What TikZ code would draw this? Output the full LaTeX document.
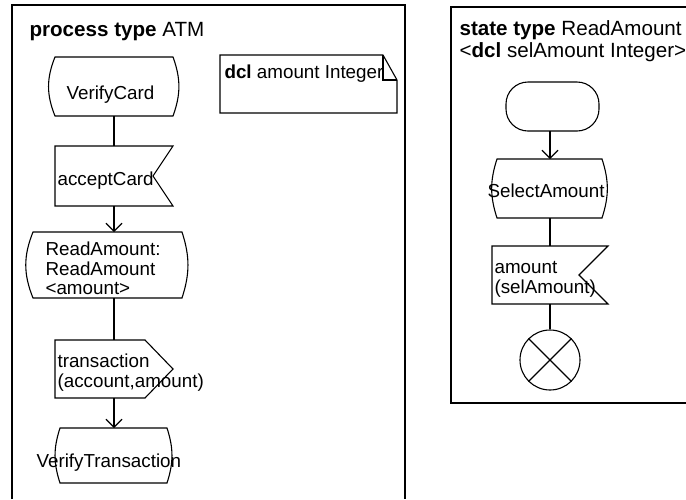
\documentclass[tikz,border=0pt]{standalone}
\usepackage{fontspec}
\setmainfont{Liberation Sans}
\usetikzlibrary{arrows.meta}
\begin{document}
\begin{tikzpicture}[x=1pt, y=-1pt, line width=1.1pt,
  shapebox/.style 2 args={rectangle, draw=none, inner sep=0pt, outer sep=0pt,
    minimum width=#1, minimum height=#2},
  txt/.style={font=\fontsize{18.8}{21}\selectfont, inner sep=0pt, anchor=base west},
  titletxt/.style={font=\fontsize{20.6}{22}\selectfont, inner sep=0pt, anchor=base west},
  flow/.style={-{Straight Barb[length=8pt,width=16pt]}}
]
\useasboundingbox (0,0) rectangle (686,499);

% ---------- frames ----------
\draw (12,499) -- (12,5) -- (405,5) -- (405,499);
\draw (686,7) -- (451,7) -- (451,403) -- (686,403);

% ---------- process type ATM ----------
\node[titletxt] (ptitle) at (29,36) {\textbf{process type} ATM};

% symbol frames (geometry only)
\node[shapebox={118pt}{59pt}] (vc)  at (114,86.5) {};
\node[shapebox={118pt}{60pt}] (ac)  at (114,176) {};
\node[shapebox={149pt}{66pt}] (ra)  at (107.5,265) {};
\node[shapebox={118pt}{58pt}] (tr)  at (114,369) {};
\node[shapebox={107pt}{55pt}] (vt)  at (113.5,455.5) {};
\node[shapebox={177pt}{58pt}] (dcl) at (308.5,84) {};

% state symbols: flat top and bottom, convex sides
\draw (vc.north west) -- (vc.north east) to[bend left=20] (vc.south east)
      -- (vc.south west) to[bend left=22] (vc.north west) -- cycle;
\draw (ra.north west) -- (ra.north east) to[bend left=18] (ra.south east)
      -- (ra.south west) to[bend left=22] (ra.north west) -- cycle;
\draw (vt.north west) -- (vt.north east) to[bend left=18] (vt.south east)
      -- (vt.south west) to[bend left=18] (vt.north west) -- cycle;

% input symbol
\draw (ac.north west) -- (ac.north east) -- ([xshift=-20pt]ac.east)
      -- (ac.south east) -- (ac.south west) -- cycle;

% output symbol
\draw (tr.north west) -- ([xshift=-28pt]tr.north east) -- (tr.east)
      -- ([xshift=-28pt]tr.south east) -- (tr.south west) -- cycle;

% text symbol with folded corner
\draw (dcl.north west) -- ([xshift=-14pt]dcl.north east) -- ([yshift=-25pt]dcl.north east)
      -- (dcl.south east) -- (dcl.south west) -- cycle;
\draw ([xshift=-14pt]dcl.north east) -- ([xshift=-14pt,yshift=-25pt]dcl.north east)
      -- ([yshift=-25pt]dcl.north east);

% texts
\node[txt] (vct)  at ([shift={(-48,12.5)}]vc.center) {VerifyCard};
\node[txt] (act)  at ([shift={(2,9)}]ac.west) {acceptCard};
\node[txt] (rat1) at ([shift={(12,23)}]ra.north west) {ReadAmount:};
\node[txt] (rat2) at ([shift={(12,43)}]ra.north west) {ReadAmount};
\node[txt] (rat3) at ([shift={(12,62)}]ra.north west) {<amount>};
\node[txt] (trt1) at ([shift={(2,27)}]tr.north west) {transaction};
\node[txt] (trt2) at ([shift={(2,47)}]tr.north west) {(account,amount)};
\node[txt] (vtt)  at ([shift={(-77.5,11.5)}]vt.center) {VerifyTransaction};
\node[txt] (dclt) at ([shift={(4,23)}]dcl.north west) {\textbf{dcl} amount Integer};

% connectors
\draw (vc.south) -- (vc.south |- ac.north);
\draw[flow] (ac.south) -- (ac.south |- ra.north);
\draw (tr.north |- ra.south) -- (tr.north);
\draw[flow] (tr.south) -- (tr.south |- vt.north);

% ---------- state type ReadAmount ----------
\node[titletxt] (stitle1) at (459,35) {\textbf{state type} ReadAmount};
\node[titletxt] (stitle2) at (459,57) {<\textbf{dcl} selAmount Integer>};

\node[shapebox={93pt}{49pt}]  (st)  at (552.5,106.5) {};
\node[shapebox={105pt}{59pt}] (sel) at (549.5,188.5) {};
\node[shapebox={116pt}{58pt}] (am)  at (550,275) {};
\node[circle, draw, inner sep=0pt, minimum size=60pt] (stop) at (550,360) {};

% start symbol
\draw[rounded corners=22pt] (st.north west) rectangle (st.south east);
% state symbol
\draw (sel.north west) -- (sel.north east) to[bend left=18] (sel.south east)
      -- (sel.south west) to[bend left=18] (sel.north west) -- cycle;
% input symbol
\draw (am.north west) -- (am.north east) -- ([xshift=-29pt]am.east)
      -- (am.south east) -- (am.south west) -- cycle;
% return symbol
\draw (stop.north west) -- (stop.south east);
\draw (stop.north east) -- (stop.south west);

\node[txt] (selt) at ([shift={(-62.5,8.5)}]sel.center) {SelectAmount};
\node[txt] (amt1) at ([shift={(2,27.3)}]am.north west) {amount};
\node[txt] (amt2) at ([shift={(2,47.3)}]am.north west) {(selAmount)};

\draw[flow] (am.north |- st.south) -- (am.north |- sel.north);
\draw (am.north |- sel.south) -- (am.north);
\draw (am.south) -- (stop.north);
\end{tikzpicture}
\end{document}
